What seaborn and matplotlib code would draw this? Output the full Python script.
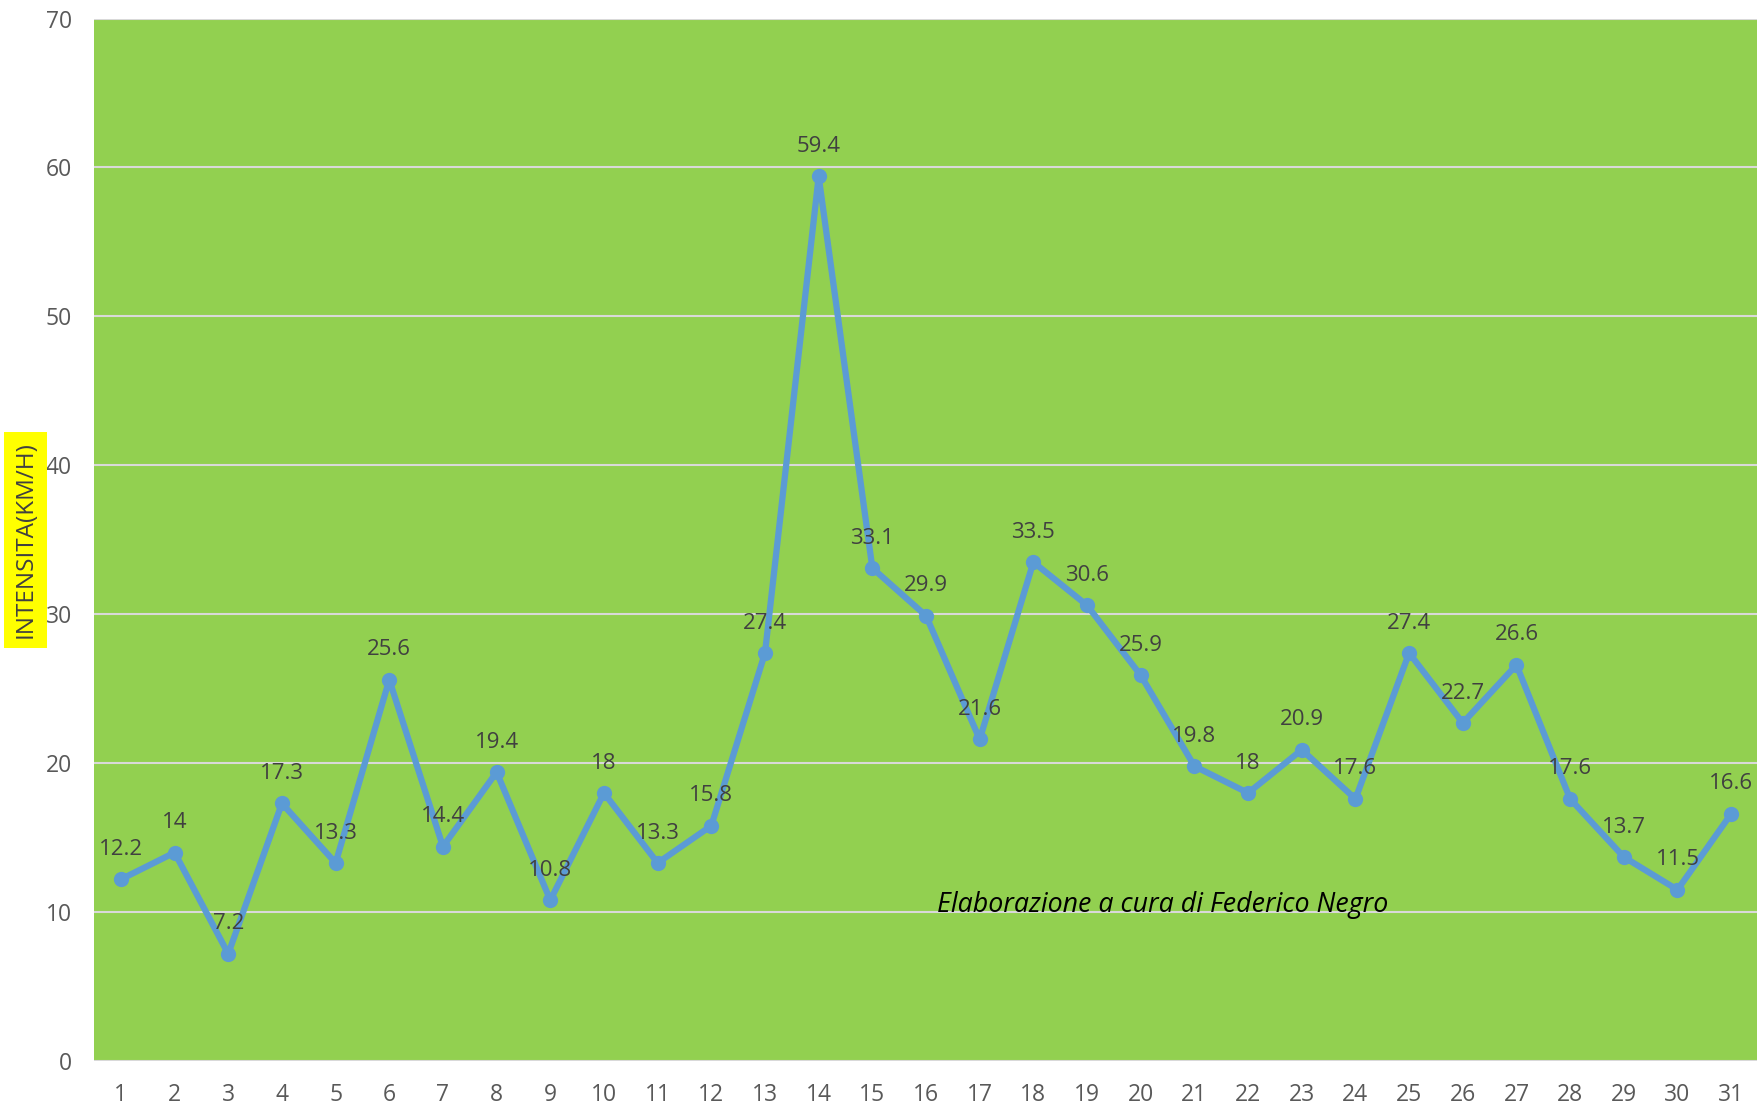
import pandas as pd
import matplotlib
matplotlib.use("Agg")
import matplotlib.pyplot as plt
import seaborn as sns

# daily values
days = list(range(1, 32))
intensita = [12.2, 14, 7.2, 17.3, 13.3, 25.6, 14.4, 19.4, 10.8, 18, 13.3, 15.8, 27.4, 59.4,
             33.1, 29.9, 21.6, 33.5, 30.6, 25.9, 19.8, 18, 20.9, 17.6, 27.4, 22.7, 26.6,
             17.6, 13.7, 11.5, 16.6]
y_ticks = [0, 10, 20, 30, 40, 50, 60, 70]
credit = "Elaborazione a cura di Federico Negro"

df = pd.DataFrame({"giorno": days, "intensita": intensita})

sns.set_style("whitegrid", {"axes.facecolor": "#92D050", "grid.color": "#D9D9D9"})
plt.rcParams["font.family"] = ["Open Sans", "DejaVu Sans"]

fig = plt.figure(figsize=(17.58, 11.10), dpi=100)
ax = fig.add_axes([0.0535, 0.0441, 0.9465, 0.9392])

sns.lineplot(data=df, x="giorno", y="intensita", ax=ax, color="#5B9BD5",
             linewidth=4.5, marker="o", markersize=11, markeredgewidth=0)

for d, v in zip(days, intensita):
    ax.annotate(f"{v:g}", (d, v), xytext=(0, 14), textcoords="offset points",
                ha="center", va="bottom", fontsize=16, color="#404040")

ax.text(20.4, 10, credit, ha="center", va="baseline", fontsize=19.3,
        style="italic", color="black")

ax.set_xlim(0.5, 31.5)
ax.set_ylim(0, 70)
ax.set_xticks(days)
ax.set_yticks(y_ticks)
ax.grid(axis="x", visible=False)
ax.grid(axis="y", linewidth=1.5)
for s in ax.spines.values():
    s.set_visible(False)
ax.tick_params(axis="both", length=0, labelsize=16.5, labelcolor="#595959")
ax.tick_params(axis="y", pad=16)
ax.tick_params(axis="x", pad=16)

ax.set_xlabel("")
ax.set_ylabel("INTENSITA(KM/H)", fontsize=17.5, color="#404040",
              bbox=dict(facecolor="#FFFF00", edgecolor="none", pad=7))
ax.yaxis.set_label_coords(-0.034, 0.5)

fig.savefig("out.png", dpi=100)
